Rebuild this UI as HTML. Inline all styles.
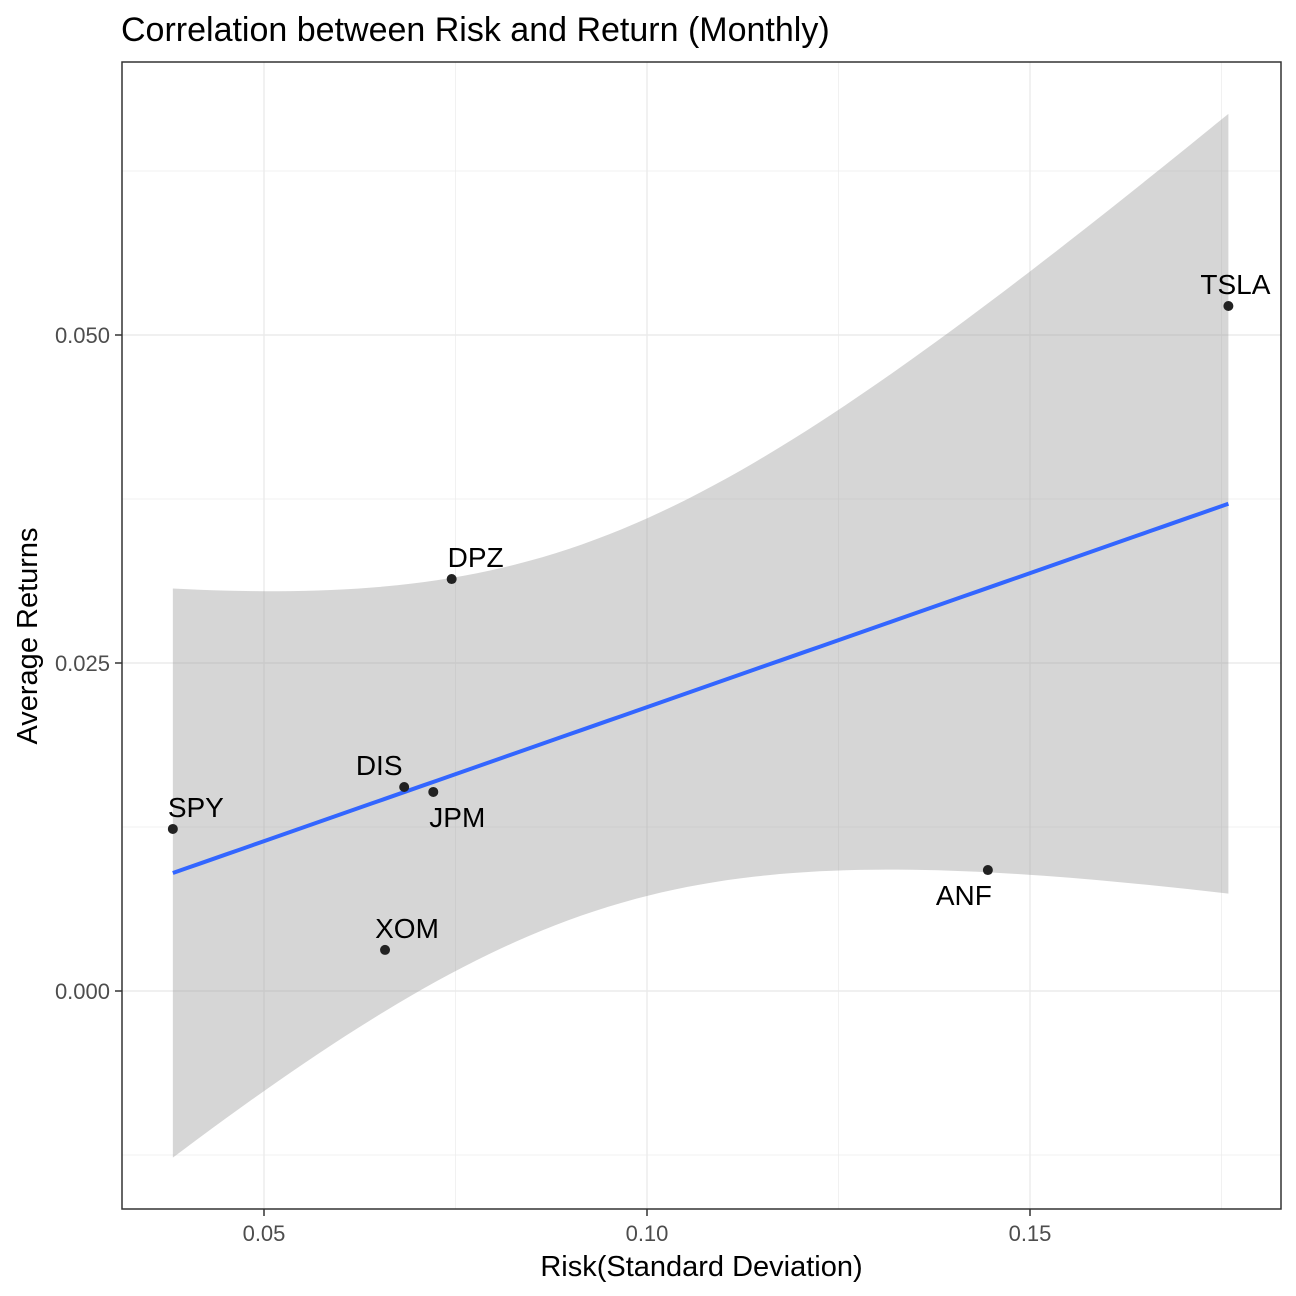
<!DOCTYPE html>
<html><head><meta charset="utf-8"><style>
html,body{margin:0;padding:0;background:#fff;}
svg{display:block;font-family:"Liberation Sans",Arial,sans-serif;}
</style></head><body>
<svg id="chart" width="1296" height="1296" viewBox="0 0 1296 1296" xmlns="http://www.w3.org/2000/svg">
<rect width="1296" height="1296" fill="#fff"/>
<text x="121" y="41" font-size="34" fill="#000">Correlation between Risk and Return (Monthly)</text>
<g id="grid"></g>
<g id="band"></g>
<g id="fit"></g>
<g id="points"></g>
<g id="labels"></g>
<rect x="122" y="62" width="1159" height="1147" fill="none" stroke="#333" stroke-width="1.5"/>
<g id="axes"></g>
<text x="701.5" y="1276" font-size="29" text-anchor="middle" fill="#000">Risk(Standard Deviation)</text>
<text transform="translate(37,636) rotate(-90)" font-size="29" text-anchor="middle" fill="#000">Average Returns</text>
</svg>
<script>
const tickers = ["SPY","DIS","JPM","DPZ","XOM","ANF","TSLA"];
const risk = [0.0381,0.0683,0.0721,0.0745,0.0658,0.1445,0.1759];
const returns = [0.01235,0.01555,0.01517,0.0314,0.00313,0.00922,0.05221];
const xTicks = [0.05,0.10,0.15];
const xTickLabels = ["0.05","0.10","0.15"];
const yTicks = [0.000,0.025,0.050];
const yTickLabels = ["0.000","0.025","0.050"];
const xMinor = [0.075,0.125,0.175];
const yMinor = [-0.0125,0.0125,0.0375,0.0625];

const NS="http://www.w3.org/2000/svg";
const X=v=>264+(v-0.05)*7660;
const Y=v=>991-v*13120;
function mk(tag,attrs,parent){const e=document.createElementNS(NS,tag);for(const k in attrs)e.setAttribute(k,attrs[k]);document.getElementById(parent).appendChild(e);return e;}

xMinor.forEach(v=>{const e=mk("line",{x1:X(v),x2:X(v),y1:62,y2:1209,stroke:"#ebebeb","stroke-width":0.7},"grid");

});
yMinor.forEach(v=>{const e=mk("line",{x1:122,x2:1281,y1:Y(v),y2:Y(v),stroke:"#ebebeb","stroke-width":0.7},"grid");

});
xTicks.forEach(v=>{const e=mk("line",{x1:X(v),x2:X(v),y1:62,y2:1209,stroke:"#ebebeb","stroke-width":1.4},"grid");

});
yTicks.forEach(v=>{const e=mk("line",{x1:122,x2:1281,y1:Y(v),y2:Y(v),stroke:"#ebebeb","stroke-width":1.4},"grid");

});

const n=risk.length;
const xm=risk.reduce((a,b)=>a+b,0)/n, ym=returns.reduce((a,b)=>a+b,0)/n;
let sxx=0,sxy=0;for(let i=0;i<n;i++){sxx+=(risk[i]-xm)**2;sxy+=(risk[i]-xm)*(returns[i]-ym);}
const b=sxy/sxx,a=ym-b*xm;
let sse=0;for(let i=0;i<n;i++)sse+=(returns[i]-a-b*risk[i])**2;
const s=Math.sqrt(sse/(n-2)), tq=2.5706;
const xmin=Math.min(...risk),xmax=Math.max(...risk);
const up=[],lo=[],ln=[];
for(let k=0;k<=80;k++){const x=xmin+(xmax-xmin)*k/80;const f=a+b*x;const se=s*Math.sqrt(1/n+(x-xm)**2/sxx);
up.push(X(x)+","+Y(f+tq*se));lo.push(X(x)+","+Y(f-tq*se));ln.push(X(x)+","+Y(f));}
const band=mk("polygon",{points:up.concat(lo.reverse()).join(" "),fill:"#999",opacity:0.4},"band");


const fit=mk("polyline",{points:ln.join(" "),fill:"none",stroke:"#3366FF","stroke-width":4},"fit");



const lblOff=[[23,-12],[-25,-12],[24,35],[24,-12],[22,-12],[-24,35],[7,-12]];
for(let i=0;i<n;i++){
 const c=mk("circle",{cx:X(risk[i]),cy:Y(returns[i]),r:5,fill:"#222"},"points");
 
 
 const t=mk("text",{x:X(risk[i])+lblOff[i][0],y:Y(returns[i])+lblOff[i][1],"font-size":28,"text-anchor":"middle",fill:"#000"},"labels");
 t.textContent=tickers[i];
 
 
}

xTicks.forEach((v,i)=>{const l=mk("line",{x1:X(v),x2:X(v),y1:1209,y2:1216,stroke:"#333","stroke-width":1.5},"axes");


const t=mk("text",{x:X(v),y:1241,"font-size":22,"text-anchor":"middle",fill:"#4d4d4d"},"axes");t.textContent=xTickLabels[i];

});
yTicks.forEach((v,i)=>{const l=mk("line",{x1:115,x2:122,y1:Y(v),y2:Y(v),stroke:"#333","stroke-width":1.5},"axes");


const t=mk("text",{x:110,y:Y(v)+8,"font-size":22,"text-anchor":"end",fill:"#4d4d4d"},"axes");t.textContent=yTickLabels[i];

});
</script>
</body></html>
